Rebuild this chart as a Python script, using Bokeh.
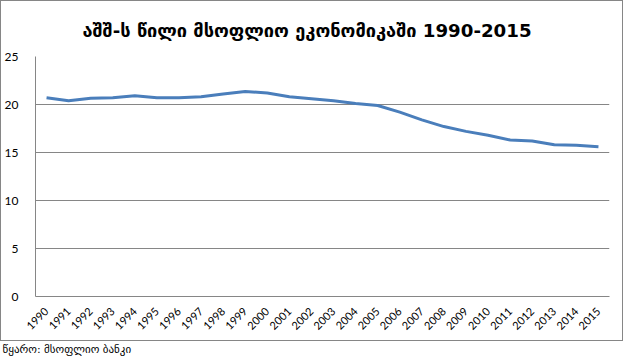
from bokeh.plotting import figure
from bokeh.models import FixedTicker, Title, FactorRange, Range1d, InlineStyleSheet
from bokeh.embed import file_html
from bokeh.resources import INLINE
from math import pi

years = [str(y) for y in range(1990, 2016)]
share = [20.7, 20.4, 20.65, 20.7, 20.9, 20.7, 20.7, 20.8, 21.1, 21.35, 21.2, 20.8, 20.6,
         20.4, 20.1, 19.9, 19.2, 18.4, 17.7, 17.2, 16.8, 16.3, 16.2, 15.8, 15.75, 15.6]
y_ticks = [0, 5, 10, 15, 20, 25]
title_text = "აშშ-ს წილი მსოფლიო ეკონომიკაში 1990-2015"
source_text = "წყარო: მსოფლიო ბანკი"

p = figure(width=625, height=360, x_range=FactorRange(*years), y_range=Range1d(0, 25),
           output_backend="svg", toolbar_location=None,
           min_border_left=35, min_border_right=16, min_border_top=56, min_border_bottom=64)
p.line(years, share, line_color="#4A7EBB", line_width=3)

p.title.text = title_text
p.title.align = "left"
p.title.offset = 47
p.title.text_font = "DejaVu Sans"
p.title.text_font_style = "bold"
p.title.text_font_size = "18.2px"
p.title.text_color = "#000000"
p.title.standoff = 32

p.add_layout(Title(text=source_text, align="left", offset=-33, standoff=9,
                   text_font="DejaVu Sans", text_font_style="normal",
                   text_font_size="11px", text_color="#000000"), "below")

p.outline_line_color = None
p.xgrid.grid_line_color = None
p.ygrid.grid_line_color = "#868686"
p.yaxis.ticker = FixedTicker(ticks=y_ticks)
for ax in (p.xaxis, p.yaxis):
    ax.axis_line_color = "#868686"
    ax.major_tick_line_color = None
    ax.minor_tick_line_color = None
    ax.major_label_text_font = "Lato"
    ax.major_label_text_color = "#000000"
p.yaxis.major_label_text_font_size = "12px"
p.yaxis.major_label_standoff = 11
p.xaxis.major_label_text_font_size = "11px"
p.xaxis.major_label_orientation = pi / 4
p.xaxis.major_label_standoff = 7
p.x_range.range_padding = 0
p.x_range.factor_padding = 0

p.stylesheets = [InlineStyleSheet(css=(
    ":host { position: relative; }"
    ":host::after { content: ''; position: absolute; left: 0px; top: 0px;"
    " width: 621px; height: 339px; border: 1px solid #868686; pointer-events: none; }"))]

open("out.html", "w").write(file_html(p, INLINE))
